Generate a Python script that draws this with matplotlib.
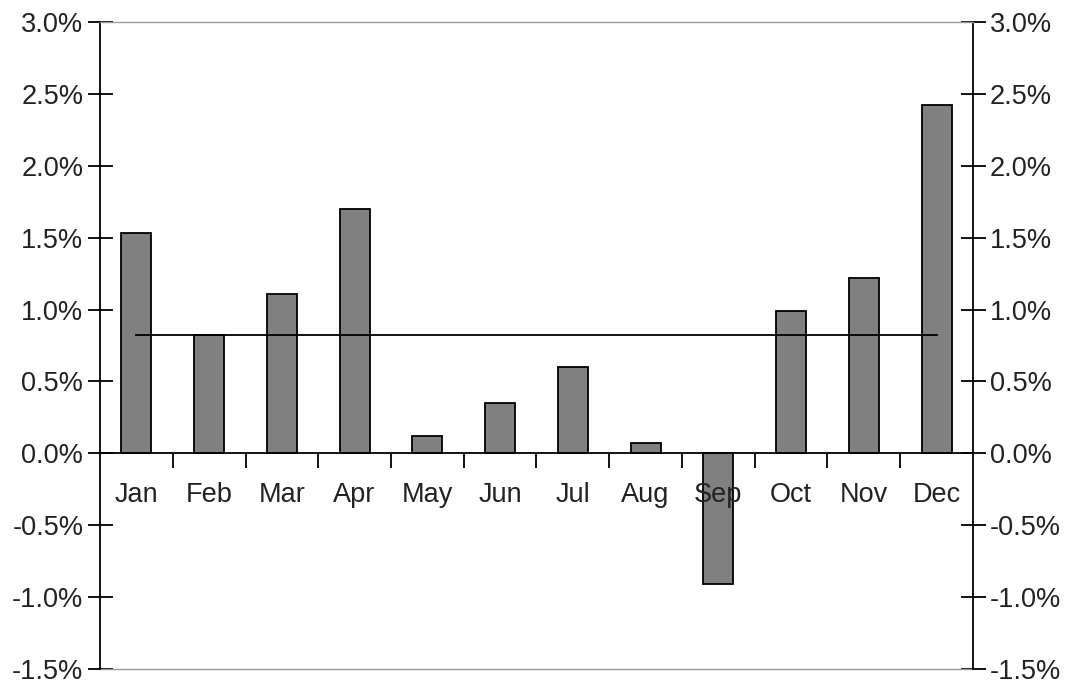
import matplotlib.pyplot as plt
from matplotlib.ticker import FuncFormatter

# monthly average returns (%)
months = ["Jan", "Feb", "Mar", "Apr", "May", "Jun",
          "Jul", "Aug", "Sep", "Oct", "Nov", "Dec"]
returns = [1.53, 0.82, 1.11, 1.70, 0.12, 0.35,
           0.60, 0.07, -0.91, 0.99, 1.22, 2.42]
average = 0.824
yticks = [-1.5, -1.0, -0.5, 0.0, 0.5, 1.0, 1.5, 2.0, 2.5, 3.0]

plt.rcParams['font.family'] = ['Liberation Sans', 'DejaVu Sans']

fig = plt.figure(figsize=(10.8, 6.88), dpi=100)
ax = fig.add_axes([0.0926, 0.0276, 0.8083, 0.9404])

x = list(range(len(months)))
ax.bar(x, returns, width=0.41, color='#808080', edgecolor='black', linewidth=1.3, zorder=2)

# average line from first to last month
ax.plot([x[0], x[-1]], [average, average], color='black', linewidth=1.3, zorder=3)

ax.set_xlim(-0.5, len(months) - 0.5)
ax.set_ylim(yticks[0], yticks[-1])

# month labels under the zero line
for i, m in enumerate(months):
    ax.text(i, -0.29, m, ha='center', va='center', fontsize=19.5, color='#222222')

# zero line carries the category separators
ax.spines['bottom'].set_position(('data', 0))
ax.spines['bottom'].set_linewidth(1.3)
ax.set_xticks([i + 0.5 for i in x[:-1]])
ax.set_xticklabels([])
ax.tick_params(axis='x', direction='out', length=11, width=1.3)

ax.spines['top'].set_color('#999999')
ax.spines['top'].set_linewidth(1.0)
ax.axhline(yticks[0], color='#999999', linewidth=1.0, clip_on=False)
for s in ('left', 'right'):
    ax.spines[s].set_linewidth(1.3)

ax.set_yticks(yticks)
ax.yaxis.set_major_formatter(FuncFormatter(lambda v, p: '%.1f%%' % v))
ax.tick_params(axis='y', left=True, right=True, labelleft=True, labelright=True,
               direction='inout', length=18, width=1.3, labelsize=19.5,
               labelcolor='#222222', pad=3)

fig.savefig('out.png', dpi=100)
